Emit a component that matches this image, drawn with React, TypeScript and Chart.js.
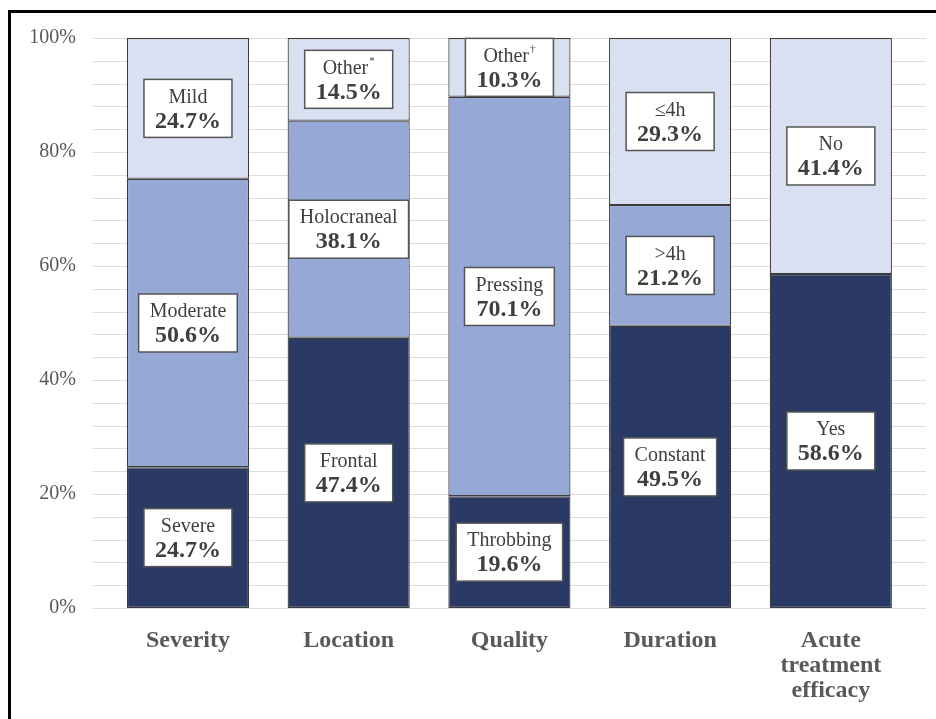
import React, { useEffect, useRef } from "react";
import { Chart, registerables } from "chart.js";

Chart.register(...registerables);

const categories: (string | string[])[] = ["Severity", "Location", "Quality", "Duration", ["Acute", "treatment", "efficacy"]];

const bottomValues: (number | null)[] = [24.7, 47.4, 19.6, 49.5, 58.6];
const middleValues: (number | null)[] = [50.6, 38.1, 70.1, 21.2, null];
const topValues: (number | null)[] = [24.7, 14.5, 10.3, 29.3, 41.4];

const bottomNames = ["Severe", "Frontal", "Throbbing", "Constant", "Yes"];
const middleNames = ["Moderate", "Holocraneal", "Pressing", ">4h", ""];
const topNames = ["Mild", "Other*", "Other\u2020", "\u22644h", "No"];

const yTickValues = [0, 20, 40, 60, 80, 100];

const COLORS = ["#2b3a64", "#95a8d6", "#d9e0f2"];
const FONT = "'Liberation Serif', 'Times New Roman', serif";

const gridPlugin = {
  id: "extGrid",
  beforeDatasetsDraw(chart: any) {
    const { ctx, chartArea, scales } = chart;
    const y = scales.y;
    const ext = 14.6;
    ctx.save();
    ctx.strokeStyle = "#dcdcdc";
    ctx.lineWidth = 1;
    for (let v = 0; v <= 100; v += 4) {
      const py = Math.round(y.getPixelForValue(v)) + 0.5;
      ctx.beginPath();
      ctx.moveTo(chartArea.left - ext, py);
      ctx.lineTo(chartArea.right + ext, py);
      ctx.stroke();
    }
    ctx.restore();
  },
};

const labelPlugin = {
  id: "boxLabels",
  afterDatasetsDraw(chart: any) {
    const { ctx } = chart;
    const nameSets = [bottomNames, middleNames, topNames];
    chart.data.datasets.forEach((ds: any, di: number) => {
      const meta = chart.getDatasetMeta(di);
      meta.data.forEach((el: any, i: number) => {
        const val = ds.data[i];
        if (val == null) return;
        const { x, y, base } = el.getProps(["x", "y", "base"], true);
        const cy = (y + base) / 2;
        let name: string = nameSets[di][i];
        let sup = "";
        if (name.endsWith("*") || name.endsWith("\u2020")) {
          sup = name.slice(-1);
          name = name.slice(0, -1);
        }
        const pct = val.toFixed(1) + "%";
        const nameFont = `20px ${FONT}`;
        const supFont = `11px ${FONT}`;
        const pctFont = `bold 24px ${FONT}`;
        ctx.save();
        ctx.font = nameFont;
        const wName = ctx.measureText(name).width;
        ctx.font = supFont;
        const wSup = sup ? ctx.measureText(sup).width + 1 : 0;
        ctx.font = pctFont;
        const wPct = ctx.measureText(pct).width;
        const w = Math.max(wName + wSup, wPct) + 22;
        const h = 58;
        ctx.fillStyle = "#ffffff";
        ctx.strokeStyle = "#555555";
        ctx.lineWidth = 1.5;
        ctx.fillRect(x - w / 2, cy - h / 2, w, h);
        ctx.strokeRect(x - w / 2, cy - h / 2, w, h);
        ctx.fillStyle = "#3f3f3f";
        ctx.textBaseline = "middle";
        ctx.textAlign = "left";
        ctx.font = nameFont;
        const nx = x - (wName + wSup) / 2;
        ctx.fillText(name, nx, cy - 11);
        if (sup) {
          ctx.font = supFont;
          ctx.fillText(sup, nx + wName + 1, cy - 18);
        }
        ctx.textAlign = "center";
        ctx.font = pctFont;
        ctx.fillText(pct, x, cy + 13);
        ctx.restore();
      });
    });
  },
};

export default function App() {
  const ref = useRef<HTMLCanvasElement>(null);
  useEffect(() => {
    if (!ref.current) return;
    const mk = (data: (number | null)[], color: string) => ({
      data,
      backgroundColor: color,
      borderColor: "#3c3c3c",
      borderWidth: 1.2,
      borderSkipped: false,
      barPercentage: 0.76,
      categoryPercentage: 1,
    });
    const chart = new Chart(ref.current, {
      type: "bar",
      data: {
        labels: categories as any,
        datasets: [mk(bottomValues, COLORS[0]), mk(middleValues, COLORS[1]), mk(topValues, COLORS[2])],
      },
      options: {
        animation: false,
        responsive: false,
        layout: { padding: { top: 38, right: 24.8, left: 0, bottom: 0 } },
        plugins: { legend: { display: false }, tooltip: { enabled: false } },
        scales: {
          x: {
            stacked: true,
            grid: { display: false, drawTicks: false },
            border: { display: false },
            ticks: {
              color: "#595959",
              font: { family: FONT, size: 24, weight: "bold", lineHeight: 1.04 },
              padding: 20,
              maxRotation: 0,
              autoSkip: false,
            },
            afterFit: (s: any) => {
              s.height = 111;
              s.paddingLeft = 0;
              s.paddingRight = 0;
            },
          },
          y: {
            stacked: true,
            min: 0,
            max: 100,
            grid: { display: false, drawTicks: false },
            border: { display: false },
            afterBuildTicks: (s: any) => {
              s.ticks = yTickValues.map((v) => ({ value: v }));
            },
            ticks: {
              color: "#595959",
              font: { family: FONT, size: 20 },
              padding: 31.6,
              callback: (v: any) => v + "%",
            },
            afterFit: (s: any) => {
              s.width = 107.6;
              s.paddingTop = 0;
              s.paddingBottom = 0;
            },
          },
        },
      },
      plugins: [gridPlugin, labelPlugin],
    });
    return () => chart.destroy();
  }, []);
  return (
    <div style={{ position: "fixed", left: 0, top: 0, width: 936, height: 719, background: "#fff", overflow: "hidden" }}>
      <div
        style={{
          position: "absolute",
          left: 8,
          top: 10,
          width: 1200,
          height: 1200,
          borderTop: "3px solid #000",
          borderLeft: "3px solid #000",
        }}
      />
      <canvas ref={ref} width={936} height={719} style={{ position: "absolute", left: 0, top: 0 }} />
    </div>
  );
}
